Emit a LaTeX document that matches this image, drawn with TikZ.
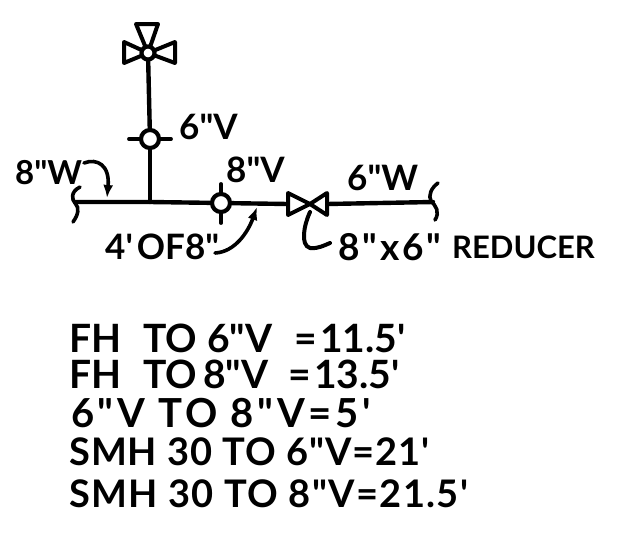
\documentclass[tikz,border=0pt]{standalone}
\usepackage{fontspec}
\newfontfamily\hand{Lato}[BoldFont=Lato Bold]
\usetikzlibrary{arrows.meta}
\tikzset{
  pipe/.style={line width=4.4pt,line cap=round,line join=round},
  valve/.style={line width=4pt,line join=round,fill=white},
  ball/.style={circle,draw,line width=4.2pt,fill=white,minimum size=18pt,inner sep=0pt},
  thin pipe/.style={line width=3.6pt,line cap=round},
  lead/.style={line width=3.6pt,line cap=round,-{Latex[length=13pt,width=10pt]}},
  lbl/.style={inner sep=0pt,anchor=base west,font=\hand\bfseries\fontsize{35}{35}\selectfont},
  row/.style={inner sep=0pt,anchor=base west,font=\hand\bfseries\fontsize{38}{38}\selectfont}
}
\begin{document}
\begin{tikzpicture}[x=1pt,y=-1pt]
\useasboundingbox (0,0) rectangle (624,533);
% anchors
\coordinate (brkL) at (75,202);
\coordinate (brkR) at (433,202);
\coordinate (tee) at (150,202);
\coordinate (redL) at (288,204);
\coordinate (redR) at (327,204);
\coordinate (redC) at (310,204);
\coordinate (topC) at (148,53);
% pipes
\node[ball] (v6) at (150,139) {};
\node[ball] (v8) at (221,203) {};
\draw[pipe] (topC) -- (v6);
\draw[pipe] (v6) -- (tee);
\draw[pipe] (brkL) -- (tee) -- (v8);
\draw[pipe] (v8) -- (redL);
\draw[pipe] (redR) -- (brkR);
% ticks on the valves
\draw[thin pipe] (v6.west) -- ++(-10,0);
\draw[thin pipe] (v6.east) -- ++(10,0);
\draw[thin pipe] (v8.north) -- ++(0,-8);
\draw[thin pipe] (v8.south) -- ++(0,9);
% pipe breaks
\draw[thin pipe] (80,187) .. controls (70,192) and (72,200) .. (75,203) .. controls (80,208) and (78,215) .. (73,222);
\draw[thin pipe] (438,183) .. controls (431,188) and (428,196) .. (431,201) .. controls (436,206) and (440,212) .. (435,220);
% reducer
\draw[valve] (redL) ++(0,-11) -- (redC) -- ++(-22,11) -- cycle;
\draw[valve] (redR) ++(0,-11) -- (redC) -- ++(17,11) -- cycle;
% top valve
\draw[valve] (124,42) -- (topC) -- (124,63) -- cycle;
\draw[valve] (175,42) -- (topC) -- (175,63) -- cycle;
\draw[valve] (136,24) -- (158,24) -- (topC) -- cycle;
\node[ball,minimum size=13pt] (top) at (topC) {};
% labels
\node[lbl,font=\hand\bfseries\fontsize{33}{33}\selectfont] (w8) at (15,184) {8"W};
\node[lbl] (l6v) at (179,139) {6"V};
\node[lbl] (l8v) at (226,182) {8"V};
\node[lbl] (w6) at (347,190) {6"W};
\node[lbl] (four) at (105,259) {4'\hspace{4pt}OF8"};
\node[lbl,font=\hand\bfseries\fontsize{37}{37}\selectfont\addfontfeature{LetterSpace=8}] (redsize) at (338,260) {8"x6"};
\node[lbl,font=\hand\bfseries\fontsize{31}{31}\selectfont] (reducer) at (452,258) {REDUCER};
% leaders
\coordinate (a8w) at (107,198);
\coordinate (a4) at (257,207);
\coordinate (aRed) at (310,212);
\coordinate (s8w) at (84,163);
\coordinate (s4) at (215,253);
\draw[lead] (s8w) .. controls (97,158) and (110,165) .. (a8w);
\draw[lead] (s4) .. controls (235,252) and (248,232) .. (a4);
\draw[thin pipe,line width=4pt] (aRed) .. controls (304,225) and (300,245) .. (310,248) .. controls (318,249) and (325,245) .. (330,243);
% list
\node[row,font=\hand\bfseries\fontsize{39}{39}\selectfont] (r1) at (69,352) {FH\hspace{22pt}TO\hspace{10pt}6"V\hspace{22pt}=\hspace{3pt}11.5'};
\node[row,font=\hand\bfseries\fontsize{39}{39}\selectfont] (r2) at (69,388) {FH\hspace{22pt}TO\hspace{6pt}8"V\hspace{20pt}=\hspace{3pt}13.5'};
\node[row,font=\hand\bfseries\fontsize{40}{40}\selectfont\addfontfeature{LetterSpace=9}] (r3) at (71,427) {6"V TO 8"V=5'};
\node[row,font=\hand\bfseries\fontsize{38}{38}\selectfont\addfontfeature{LetterSpace=2.5}] (r4) at (69,465) {SMH 30 TO 6"V=21'};
\node[row,font=\hand\bfseries\fontsize{38}{38}\selectfont\addfontfeature{LetterSpace=3.5}] (r5) at (69,507) {SMH 30 TO 8"V=21.5'};
\end{tikzpicture}
\end{document}
